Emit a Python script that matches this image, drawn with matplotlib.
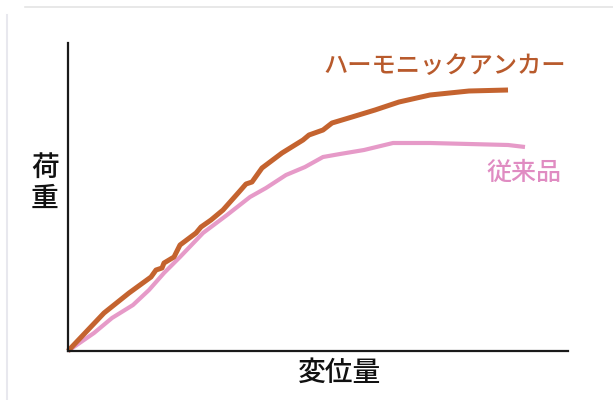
import matplotlib
matplotlib.use("Agg")
import matplotlib.pyplot as plt
from matplotlib.lines import Line2D

plt.rcParams['font.family'] = ['Noto Sans CJK JP', 'DejaVu Sans']

# Data (arbitrary units: displacement vs load)
x_harmonic = [0, 36, 61, 83, 88, 94, 96, 106, 112, 128, 133, 143, 155, 171, 178, 184, 194,
              214, 235, 241, 255, 264, 284, 307, 331, 362, 401, 440]
y_harmonic = [0, 38, 58, 74, 81, 83, 88, 94, 106, 118, 124, 131, 141, 159, 167, 169, 183,
              198, 211, 216, 221, 228, 234, 241, 249, 256, 260, 261]
x_conv = [0, 26, 44, 65, 81, 96, 112, 135, 159, 182, 198, 218, 237, 255, 272, 296, 325,
          362, 401, 440, 457]
y_conv = [0, 18, 33, 46, 61, 78, 94, 118, 136, 154, 163, 176, 184, 194, 197, 201, 208,
          208, 207, 206, 204]

label_harmonic = "ハーモニックアンカー"
label_conv = "従来品"
xlabel = "変位量"
ylabel_chars = ["荷", "重"]

W, H = 613, 400
fig = plt.figure(figsize=(W / 100, H / 100), dpi=100)
fig.patch.set_facecolor("white")

# faint frame artifacts
fig.add_artist(Line2D([25 / W, 1.0], [1 - 7 / H, 1 - 7 / H], color="#e4e4e4", lw=1.2))
fig.add_artist(Line2D([7 / W, 7 / W], [1 - 15 / H, 0.0], color="#e8e8ee", lw=1.5))

ax = fig.add_axes([68 / W, 1 - 351 / H, (568 - 68) / W, (351 - 43) / H])
ax.set_xlim(0, 500)
ax.set_ylim(0, 308)
for s in ["top", "right"]:
    ax.spines[s].set_visible(False)
for s in ["left", "bottom"]:
    ax.spines[s].set_linewidth(1.6)
    ax.spines[s].set_color("#1a1a1a")
ax.set_xticks([])
ax.set_yticks([])

orange = "#C4632F"
pink = "#E69AC8"
ax.plot(x_conv, y_conv, color=pink, lw=3.0, solid_capstyle="butt", clip_on=False)
ax.plot(x_harmonic, y_harmonic, color=orange, lw=3.6, solid_capstyle="butt", clip_on=False)

fig.text(323 / W, 1 - 66 / H, label_harmonic, color="#B85A2C", fontsize=17.5,
         ha="left", va="center", fontweight="medium")
fig.text(486 / W, 1 - 173 / H, label_conv, color="#E08CC2", fontsize=18,
         ha="left", va="center", fontweight="medium")

fig.text(340 / W, 1 - 372 / H, xlabel, color="#111111", fontsize=20,
         ha="center", va="center", fontweight="medium")
fig.text(45 / W, 1 - 167 / H, ylabel_chars[0], color="#111111", fontsize=20,
         ha="center", va="center", fontweight="medium")
fig.text(45 / W, 1 - 198 / H, ylabel_chars[1], color="#111111", fontsize=20,
         ha="center", va="center", fontweight="medium")

fig.savefig("out.png", dpi=100)
